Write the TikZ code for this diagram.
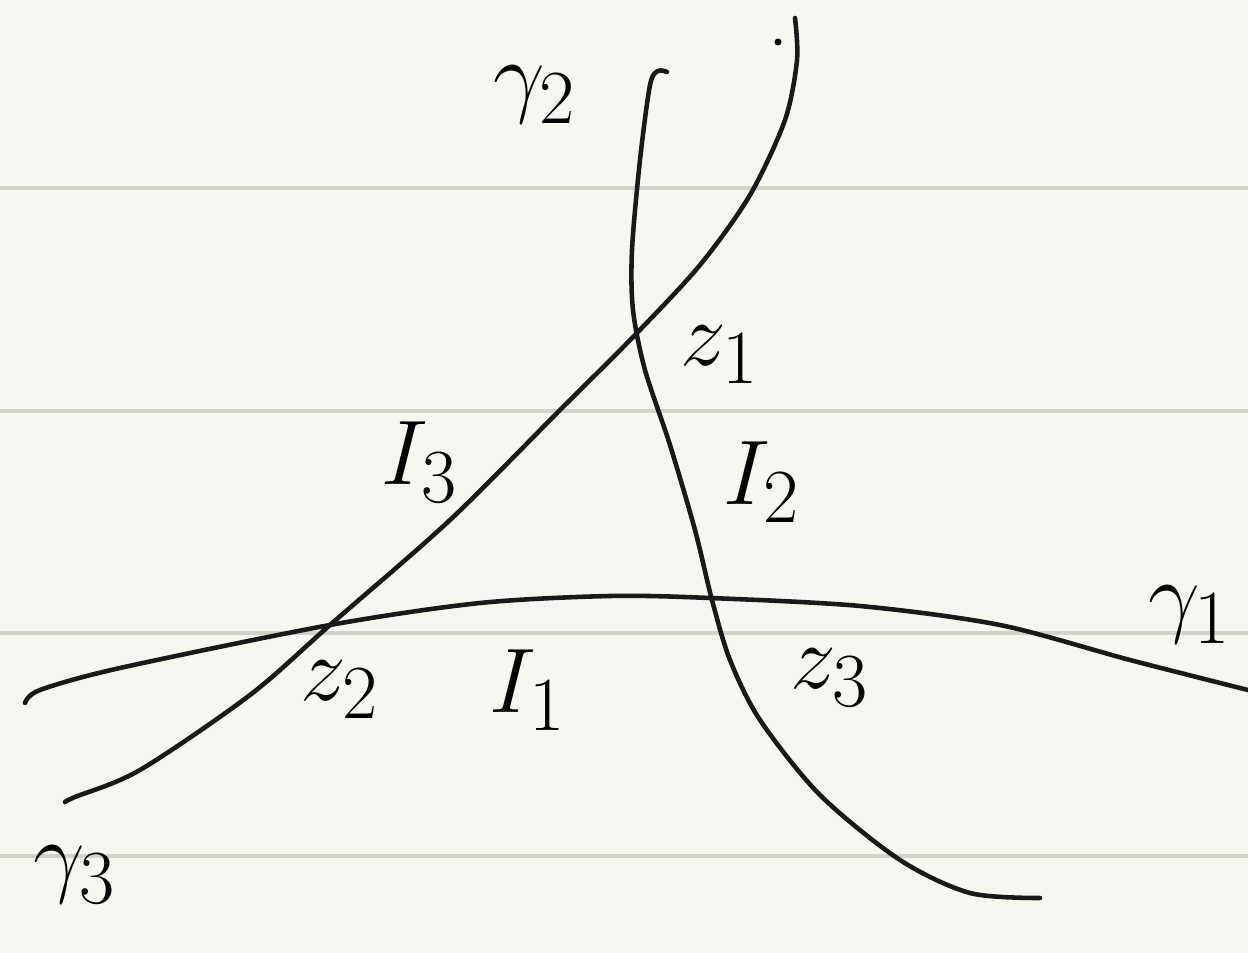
\documentclass[tikz,border=0pt]{standalone}
\usepackage{graphicx}
\usepackage{xcolor}
\definecolor{paper}{HTML}{F6F6F1}
\definecolor{ruled}{HTML}{D2D2CB}
\newcommand{\handlbl}[1]{\scalebox{2.1}{$#1$}}
\begin{document}
\begin{tikzpicture}[
    x=0.02cm, y=-0.02cm,
    curve/.style={line width=2.6pt, black!90, line cap=round, line join=round},
    ruleline/.style={ruled, line width=2.2pt},
    lbl/.style={font=\Huge, inner sep=0pt},
]
% Paper
\fill[paper] (0,0) rectangle (1248,953);
\useasboundingbox (0,0) rectangle (1248,953);
\foreach \y in {188,411,633,856}
    \draw[ruleline] (0,\y) -- (1248,\y);

% Curves
\draw[curve] plot[smooth] coordinates {(25,703) (40,690) (120,668) (330,625)
    (480,603) (610,596) (710,598) (860,606) (1000,625) (1130,660) (1248,690)};
\draw[curve] plot[smooth] coordinates {(65,802) (75,797) (140,770) (250,695)
    (330,625) (450,520) (560,410) (635,335) (700,265) (750,195) (785,120)
    (797,60) (795,18)};
\draw[curve] plot[smooth] coordinates {(667,72) (658,71) (650,85) (640,160)
    (632,250) (633,310) (645,370) (670,445) (695,530) (712,600) (730,660)
    (760,720) (820,795) (900,860) (970,893) (1040,898)};
\fill (778,42) circle (2pt);

% Intersections
\coordinate (z1) at (635,335);
\coordinate (z2) at (330,625);
\coordinate (z3) at (712,600);

% Labels
\node[lbl] (g2) at (535,95) {\handlbl{\gamma_2}};
\node[lbl] (g1) at (1190,615) {\handlbl{\gamma_1}};
\node[lbl] (g3) at (75,875) {\handlbl{\gamma_3}};
\node[lbl] (lz1) at (720,355) {\handlbl{z_1}};
\node[lbl] (lz2) at (340,690) {\handlbl{z_2}};
\node[lbl] (lz3) at (830,678) {\handlbl{z_3}};
\node[lbl] (i3) at (420,462) {\handlbl{I_3}};
\node[lbl] (i2) at (762,482) {\handlbl{I_2}};
\node[lbl] (i1) at (528,690) {\handlbl{I_1}};

\end{tikzpicture}
\end{document}
